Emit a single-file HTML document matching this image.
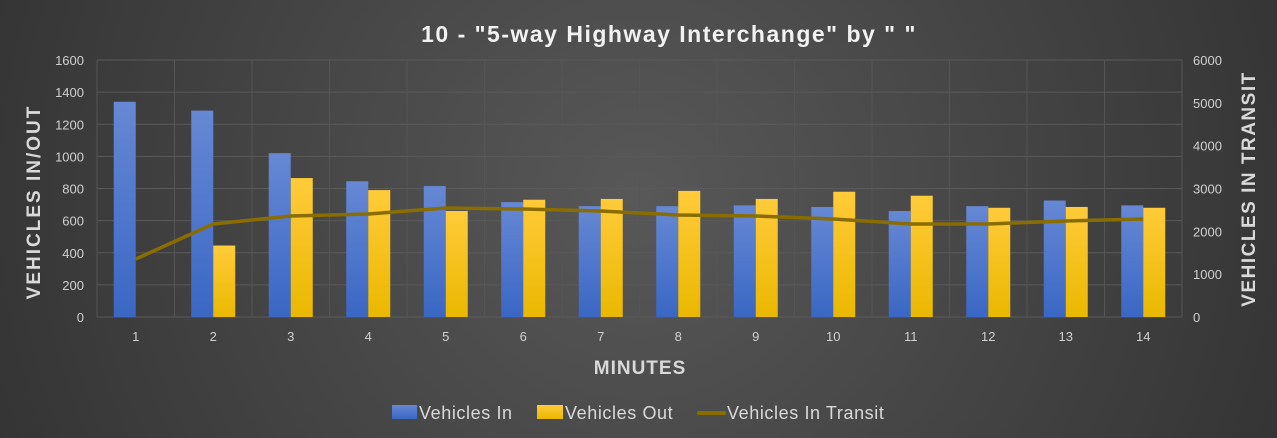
<!DOCTYPE html>
<html><head><meta charset="utf-8"><style>
html,body{margin:0;padding:0;width:1277px;height:438px;overflow:hidden;background:#2d2d2d}
svg{display:block}
text{font-family:"Liberation Sans",sans-serif}
</style></head><body>
<svg id="c" width="1277" height="438" xmlns="http://www.w3.org/2000/svg">
<defs>
<radialGradient id="bg" cx="0.5" cy="0.45" r="0.75" gradientTransform="translate(0.5,0.45) scale(1,2.9) translate(-0.5,-0.45)">
<stop offset="0" stop-color="#585858"/><stop offset="1" stop-color="#262626"/></radialGradient>
<linearGradient id="bl" x1="0" y1="0" x2="0" y2="1"><stop offset="0" stop-color="#6688d4"/><stop offset="1" stop-color="#3a67c4"/></linearGradient>
<linearGradient id="yl" x1="0" y1="0" x2="0" y2="1"><stop offset="0" stop-color="#ffcb3a"/><stop offset="1" stop-color="#eab800"/></linearGradient>
</defs>
<rect width="1277" height="438" fill="url(#bg)"/>
<g id="g"></g>
</svg>
<script>
var g=document.getElementById('g'),s='';
var L=97,R=1182,T=60,B=317,st=(R-L)/14;
for(var i=0;i<=8;i++){var y=B-i*(B-T)/8;s+='<line x1="'+L+'" x2="'+R+'" y1="'+y+'" y2="'+y+'" stroke="#5a5a5a" stroke-width="1"/>';
s+='<text x="84" y="'+(y+5)+'" fill="#d0d0d0" font-size="13" text-anchor="end">'+(i*200)+'</text>';}
for(var i=0;i<=6;i++){var y=B-i*(B-T)/6;s+='<text x="1193" y="'+(y+5)+'" fill="#d0d0d0" font-size="13">'+(i*1000)+'</text>';}
for(var i=0;i<=14;i++){var x=L+i*st;s+='<line x1="'+x+'" x2="'+x+'" y1="'+T+'" y2="'+B+'" stroke="#555" stroke-width="1"/>';}
var vin=[1340,1285,1020,845,815,715,690,690,695,685,660,690,725,695];
var vout=[0,445,865,790,660,730,735,785,735,780,755,680,685,680];
var tr=[1354,2171,2358,2404,2545,2521,2475,2381,2358,2288,2171,2171,2241,2288];
var pts=[];
for(var i=0;i<14;i++){var c=L+(i+0.5)*st;
var h=vin[i]*(B-T)/1600;s+='<rect x="'+(c-22)+'" y="'+(B-h)+'" width="22" height="'+h+'" fill="url(#bl)"/>';
h=vout[i]*(B-T)/1600;if(h>0)s+='<rect x="'+c+'" y="'+(B-h)+'" width="22" height="'+h+'" fill="url(#yl)"/>';
pts.push(c+','+(B-tr[i]*(B-T)/6000));
s+='<text x="'+c+'" y="341" fill="#d0d0d0" font-size="13" text-anchor="middle">'+(i+1)+'</text>';}
s+='<polyline points="'+pts.join(' ')+'" fill="none" stroke="#8a6d00" stroke-width="3.5" stroke-linejoin="round"/>';
s+='<text x="669" y="42" fill="#f2f2f2" font-size="23" font-weight="bold" letter-spacing="1.5" text-anchor="middle">10 - "5-way Highway Interchange"  by " "</text>';
s+='<text x="640" y="374" fill="#d9d9d9" font-size="19" font-weight="bold" letter-spacing="1" text-anchor="middle">MINUTES</text>';
s+='<text transform="translate(40,202) rotate(-90)" fill="#d9d9d9" font-size="19" font-weight="bold" letter-spacing="2" text-anchor="middle">VEHICLES IN/OUT</text>';
s+='<text transform="translate(1255,189) rotate(-90)" fill="#d9d9d9" font-size="19" font-weight="bold" letter-spacing="1.5" text-anchor="middle">VEHICLES IN TRANSIT</text>';
s+='<rect x="392" y="405" width="25" height="14" fill="url(#bl)"/><text x="419" y="419" fill="#d9d9d9" font-size="18" letter-spacing="0.6">Vehicles In</text>';
s+='<rect x="537" y="405" width="26" height="14" fill="url(#yl)"/><text x="565" y="419" fill="#d9d9d9" font-size="18" letter-spacing="0.6">Vehicles Out</text>';
s+='<line x1="699" x2="724" y1="413" y2="413" stroke="#8a6d00" stroke-width="4" stroke-linecap="round"/><text x="727" y="419" fill="#d9d9d9" font-size="18" letter-spacing="0.6">Vehicles In Transit</text>';
g.innerHTML=s;
</script>
</body></html>
